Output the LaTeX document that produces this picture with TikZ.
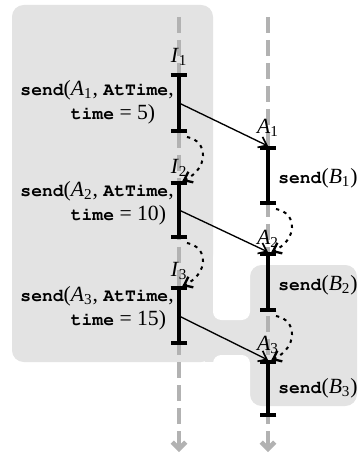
\documentclass[tikz,border=0pt]{standalone}
\usepackage[T1]{fontenc}
\usepackage{fontspec}
\setmainfont{Liberation Serif}
\usetikzlibrary{arrows.meta}
\definecolor{boxgray}{gray}{0.89}
% program text and indexed names
\newcommand\prog[1]{{\fontencoding{T1}\fontfamily{pcr}\fontseries{b}\fontsize{10.8pt}{14.4pt}\selectfont #1}}
\newcommand\idx[2]{\textit{#1}\textsubscript{#2}}
\tikzset{
  lifeline/.style={line width=2.7pt, black!30, dash pattern=on 9.6pt off 4.2pt,
    -{Straight Barb[length=4pt,width=8pt]}},
  stepbar/.style={line width=2.2pt, {Bar[width=10pt]}-{Bar[width=10pt]}},
  message/.style={line width=0.8pt, -{Straight Barb[length=4.5pt,width=7pt,line width=1pt]}},
  nextstep/.style={line width=1.2pt, dash pattern=on 2pt off 2.8pt,
    -{Straight Barb[length=4.5pt,width=7pt,line width=1.4pt]}},
  sendlbl/.style={align=left, inner sep=0pt},
}
\begin{document}
\begin{tikzpicture}[x=0.6pt, y=-0.6pt, font=\fontsize{13pt}{14.4pt}\selectfont]
  \useasboundingbox (0,0) rectangle (361,456);
  % shaded groups
  \fill[boxgray, rounded corners=7pt] (12,5) rectangle (213,362);
  \fill[boxgray, rounded corners=7pt] (250,265) rectangle (357,406);
  \fill[boxgray] (205,310) rectangle (258,362);
  \fill[white, rounded corners=5pt] (213,250) rectangle (250,320);
  \fill[white, rounded corners=5pt] (213,355) rectangle (250,420);
  % lifelines
  \coordinate (ltop) at (179,17);  \coordinate (lbot) at (179,452);
  \coordinate (rtop) at (268,17);  \coordinate (rbot) at (268,452);
  \draw[lifeline] (ltop) -- (lbot);
  \draw[lifeline] (rtop) -- (rbot);
  % I steps
  \coordinate (l1t) at (179,73);  \coordinate (l1m) at (179,103); \coordinate (l1b) at (179,133);
  \coordinate (l2t) at (179,181); \coordinate (l2m) at (179,210); \coordinate (l2b) at (179,239);
  \coordinate (l3t) at (179,286); \coordinate (l3m) at (179,316); \coordinate (l3b) at (179,345);
  \draw[stepbar] (l1t) -- (l1b);
  \draw[stepbar] (l2t) -- (l2b);
  \draw[stepbar] (l3t) -- (l3b);
  \node[above=1pt] (I1) at (l1t) {\idx{I}{1}};
  \node[above=-1pt] (I2) at (l2t) {\idx{I}{2}};
  \node[above=0pt] (I3) at (l3t) {\idx{I}{3}};
  \node[sendlbl, anchor=east] (s1) at (174,102)
    {\prog{send}(\idx{A}{1}, \prog{AtTime},\\ \hphantom{\prog{send}(}\prog{time} = 5)};
  \node[sendlbl, anchor=east] (s2) at (174,203)
    {\prog{send}(\idx{A}{2}, \prog{AtTime},\\ \hphantom{\prog{send}(}\prog{time} = 10)};
  \node[sendlbl, anchor=east] (s3) at (174,308)
    {\prog{send}(\idx{A}{3}, \prog{AtTime},\\ \hphantom{\prog{send}(}\prog{time} = 15)};
  % A steps
  \coordinate (r1t) at (268,146); \coordinate (r1b) at (268,205);
  \coordinate (r2t) at (268,252); \coordinate (r2b) at (268,312);
  \coordinate (r3t) at (268,360); \coordinate (r3b) at (268,417);
  \draw[stepbar] (r1t) -- (r1b);
  \draw[stepbar] (r2t) -- (r2b);
  \draw[stepbar] (r3t) -- (r3b);
  \node[above=2pt] (A1) at (r1t) {\idx{A}{1}};
  \node[above=-1pt] (A2) at (r2t) {\idx{A}{2}};
  \node[above=0pt] (A3) at (r3t) {\idx{A}{3}};
  \node[anchor=west, inner sep=0pt] (b1) at (278,178) {\prog{send}(\idx{B}{1})};
  \node[anchor=west, inner sep=0pt] (b2) at (278,285) {\prog{send}(\idx{B}{2})};
  \node[anchor=west, inner sep=0pt] (b3) at (278,388) {\prog{send}(\idx{B}{3})};
  % messages
  \draw[message] (l1m) -- (r1t);
  \draw[message] (l2m) -- (r2t);
  \draw[message] (l3m) -- (r3t);
  % continuations
  \draw[nextstep] ([shift={(8,4)}]l1b) .. controls +(22,4) and +(26,-12) .. ([xshift=2]l2t);
  \draw[nextstep] ([shift={(8,4)}]l2b) .. controls +(22,4) and +(26,-12) .. ([xshift=2]l3t);
  \draw[nextstep] ([shift={(8,4)}]r1b) .. controls +(22,4) and +(26,-12) .. ([xshift=2]r2t);
  \draw[nextstep] ([shift={(8,4)}]r2b) .. controls +(22,4) and +(26,-12) .. ([xshift=2]r3t);
\end{tikzpicture}
\end{document}
